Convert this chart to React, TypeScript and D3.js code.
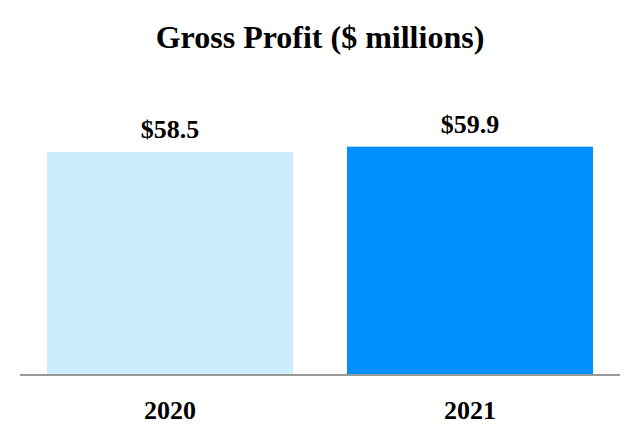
// Gross profit, two-year bar comparison. Plain d3 scales, JSX marks.
import * as d3 from "d3";

const YEARS = ["2020", "2021"];
const VALUES = [58.5, 59.9];
const COLORS = ["#CCEDFD", "#0091FF"];
const TITLE = "Gross Profit ($ millions)";

const W = 640;
const H = 440;
const BASE_Y = 375;
const FONT = "'Liberation Serif', 'Times New Roman', serif";

export default function App() {
  const x = d3
    .scaleBand<string>()
    .domain(YEARS)
    .range([20, 620])
    .paddingInner(0.18)
    .paddingOuter(0.09);
  const y = d3.scaleLinear().domain([0, 60]).range([BASE_Y, 146.3]);

  return (
    <>
      <style>{`body{margin:0;background:#fff}`}</style>
      <svg width={W} height={H} viewBox={`0 0 ${W} ${H}`} style={{ display: "block" }}>
        <text
          x={W / 2}
          y={48}
          textAnchor="middle"
          fontFamily={FONT}
          fontWeight="bold"
          fontSize={32}
          fill="#000"
        >
          {TITLE}
        </text>

        {YEARS.map((yr, i) => {
          const bx = x(yr)!;
          const by = y(VALUES[i]);
          return (
            <g key={yr}>
              <rect
                x={bx}
                y={by}
                width={x.bandwidth()}
                height={BASE_Y - by}
                fill={COLORS[i]}
              />
              <text
                x={bx + x.bandwidth() / 2}
                y={by - 14}
                textAnchor="middle"
                fontFamily={FONT}
                fontWeight="bold"
                fontSize={26}
                fill="#000"
              >
                {`$${VALUES[i].toFixed(1)}`}
              </text>
              <text
                x={bx + x.bandwidth() / 2}
                y={419}
                textAnchor="middle"
                fontFamily={FONT}
                fontWeight="bold"
                fontSize={26}
                fill="#000"
              >
                {yr}
              </text>
            </g>
          );
        })}

        <line x1={20} x2={620} y1={BASE_Y} y2={BASE_Y} stroke="#999" strokeWidth={2} />
      </svg>
    </>
  );
}
